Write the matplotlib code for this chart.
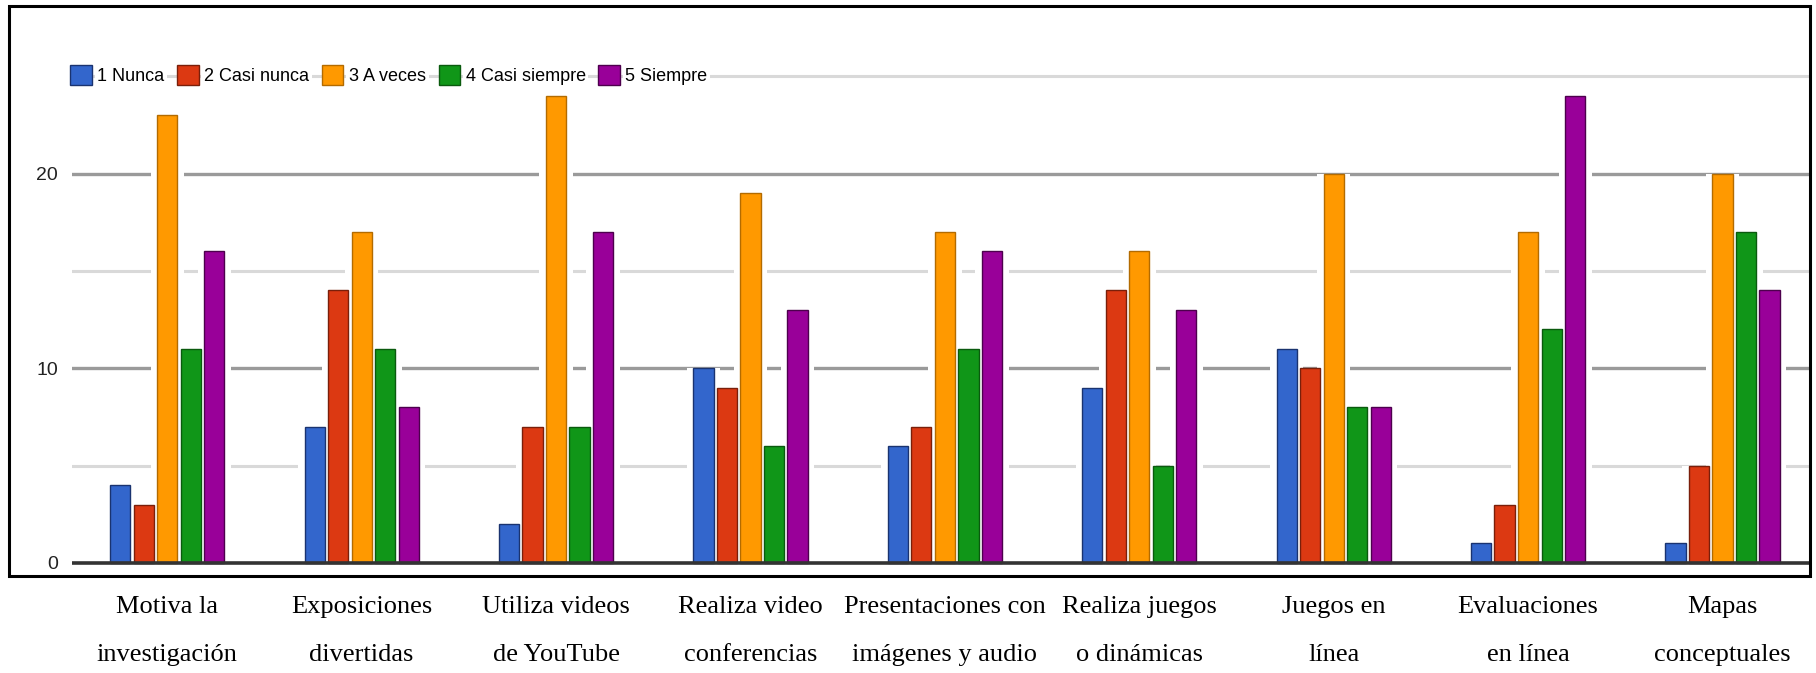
import matplotlib.pyplot as plt
from matplotlib.patches import Patch, Rectangle

# categorias del eje x y respuestas por escala
categorias = ['Motiva la\ninvestigación', 'Exposiciones\ndivertidas', 'Utiliza videos\nde YouTube',
              'Realiza video\nconferencias', 'Presentaciones con\nimágenes y audio',
              'Realiza juegos\no dinámicas', 'Juegos en\nlínea', 'Evaluaciones\nen línea',
              'Mapas\nconceptuales']
series = ['1 Nunca', '2 Casi nunca', '3 A veces', '4 Casi siempre', '5 Siempre']
nunca = [4, 7, 2, 10, 6, 9, 11, 1, 1]
casi_nunca = [3, 14, 7, 9, 7, 14, 10, 3, 5]
a_veces = [23, 17, 24, 19, 17, 16, 20, 17, 20]
casi_siempre = [11, 11, 7, 6, 11, 5, 8, 12, 17]
siempre = [16, 8, 17, 13, 16, 13, 8, 24, 14]
valores = [nunca, casi_nunca, a_veces, casi_siempre, siempre]
yticks = [0, 10, 20]

colores = ['#3366cc', '#dc3912', '#ff9900', '#109618', '#990099']
bordes = ['#1a3370', '#7a1f0a', '#b36b00', '#0a5a0e', '#4d004d']

sans = ['Liberation Sans', 'DejaVu Sans']
serif = ['Liberation Serif', 'DejaVu Serif']

fig = plt.figure(figsize=(18.16, 6.73), dpi=100)
W, H = 1816, 673
ax = fig.add_axes([72 / W, 1 - 575 / H, (1810 - 72) / W, (575 - 8) / H])

# marco exterior
fig.patches.append(Rectangle((9 / W, 1 - 576 / H), (1810 - 9) / W, (576 - 6) / H,
                             transform=fig.transFigure, fill=False, edgecolor='black',
                             linewidth=2.2, zorder=10))

paso = 0.121
ancho = 0.104
x = list(range(len(categorias)))
for i, vals in enumerate(valores):
    pos = [xi + (i - 2) * paso for xi in x]
    # halo blanco que corta las lineas de la cuadricula
    ax.bar(pos, vals, width=paso + 0.05, color='white', zorder=2, linewidth=0)
    ax.bar(pos, vals, width=ancho, color=colores[i], edgecolor=bordes[i],
           linewidth=1.0, zorder=3, label=series[i])

# cuadricula
for y in [5, 15, 25]:
    ax.axhline(y, color='#d9d9d9', linewidth=2.2, zorder=1)
for y in [10, 20]:
    ax.axhline(y, color='#9a9a9a', linewidth=2.4, zorder=1)
ax.axhline(0, color='#333333', linewidth=2.6, zorder=4)

ax.set_xlim(-0.49, 8.45)
ax.set_ylim(-0.62, 28.5)
for s in ax.spines.values():
    s.set_visible(False)
ax.set_xticks([])
ax.set_yticks(yticks)
ax.set_yticklabels([str(v) for v in yticks], family=sans, fontsize=14, color='#222222')
ax.tick_params(axis='y', length=0, pad=10)

# etiquetas de categorias debajo del marco
for xi, cat in zip(x, categorias):
    l1, l2 = cat.split('\n')
    xf = ax.transData.transform((xi, 0))[0] / W
    fig.text(xf, 1 - 607 / H, l1, ha='center', va='center', family=serif, fontsize=19)
    fig.text(xf, 1 - 655 / H, l2, ha='center', va='center', family=serif, fontsize=19)

handles = [Patch(facecolor=c, edgecolor=b) for c, b in zip(colores, bordes)]
leg = ax.legend(handles, series, loc='center left', bbox_to_anchor=(-0.001, 0.882), ncol=5,
                frameon=False, prop={'family': sans, 'size': 13}, handlelength=1.2,
                handleheight=1.3, handletextpad=0.3, columnspacing=0.7, borderpad=0,
                borderaxespad=0)
for t in leg.get_texts():
    t.set_bbox(dict(facecolor='white', edgecolor='none', pad=2))
leg.set_zorder(5)

fig.savefig('out.png', dpi=100)
